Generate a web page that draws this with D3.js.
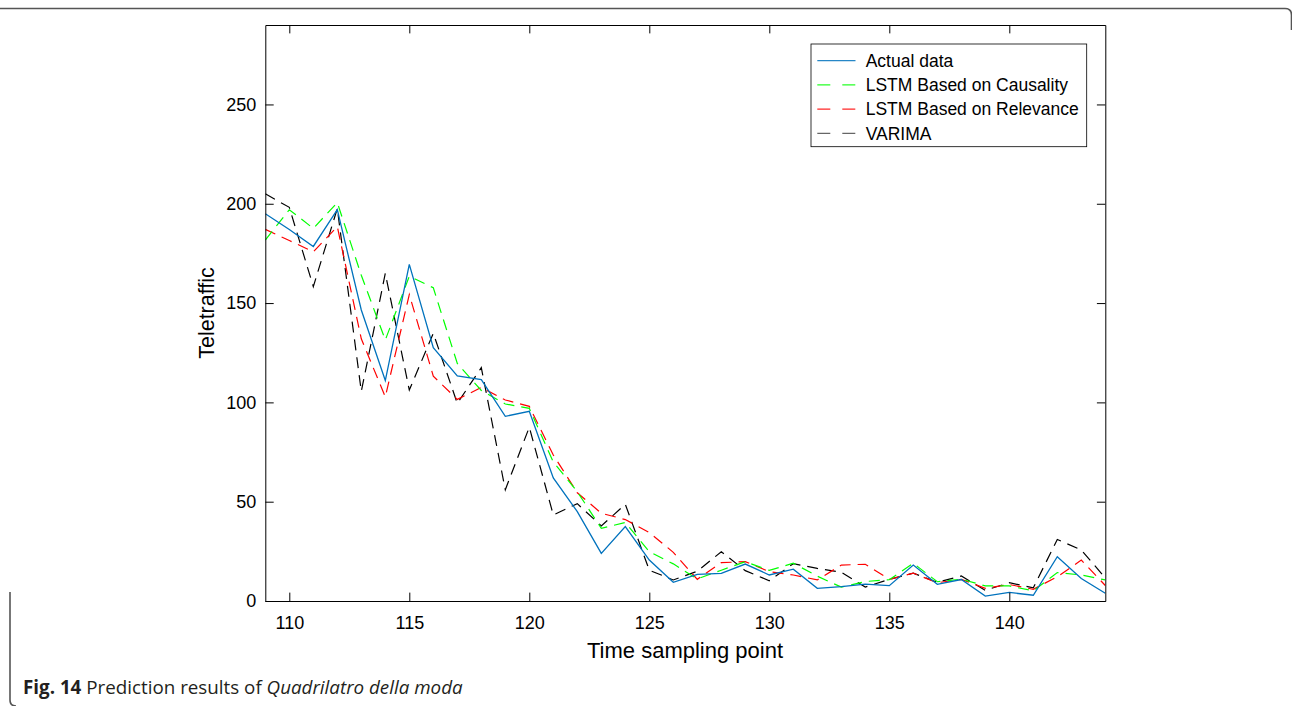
<!DOCTYPE html>
<html>
<head>
<meta charset="utf-8">
<script src="https://cdn.jsdelivr.net/npm/d3@7"></script>
<style>
  html, body { margin: 0; padding: 0; background: #fff; }
  svg { display: block; }
</style>
</head>
<body>
<svg id="chart" width="1292" height="706"></svg>
<script>
// Time sampling points 109..144
const timePoints = d3.range(109, 145);

const actualData = [195, 187, 178.5, 197, 146.5, 111, 169.5, 127.5, 113.3, 111.5, 93, 95.5,
  62, 45, 24, 37.5, 20.6, 9.4, 13.4, 13.9, 18.6, 13.1, 16, 6.4,
  7.2, 8.5, 7.7, 18.1, 8.4, 10.8, 2.5, 4.3, 2.9, 22.3, 11.3, 3.9];

const lstmCausality = [181.7, 197, 187.6, 200.6, 164, 131.4, 163.5, 157.7, 119.6, 106, 99.2, 97,
  70, 55, 36.6, 39.5, 24.8, 18.7, 11.1, 15.5, 19.8, 15.4, 19, 12.5,
  7, 9.8, 10.7, 19, 9.7, 11, 7.6, 7.6, 5.1, 14.3, 13.1, 10.6];

const lstmRelevance = [187.1, 181.5, 175.8, 188.5, 132, 102.8, 154.3, 113.2, 101.5, 107.5, 101.2, 98,
  73.5, 54.5, 44.2, 41, 34.5, 24.5, 10.9, 19.3, 19.8, 14.8, 13.1, 10.6,
  18.1, 18.5, 10.9, 14, 9.2, 10.9, 6.4, 8.3, 5.9, 12.2, 20.6, 7.8];

const varima = [205, 198.2, 158.3, 197.6, 105.5, 165, 106.2, 134.8, 99.5, 117.5, 56, 87.5,
  43.3, 49, 37.8, 48.7, 15.5, 10.6, 15, 24.8, 15.3, 10.2, 18.8, 16.4,
  14.5, 7, 10.9, 14, 9.4, 12.6, 5.4, 9.2, 6.6, 31, 25.7, 11.6];

const xTicks = [110, 115, 120, 125, 130, 135, 140];
const yTicks = [0, 50, 100, 150, 200, 250];

const seriesNames = ["Actual data", "LSTM Based on Causality", "LSTM Based on Relevance", "VARIMA"];
const seriesColors = ["#0072BD", "#00FF00", "#FF0000", "#000000"];
const seriesValues = [actualData, lstmCausality, lstmRelevance, varima];

const svg = d3.select("#chart");
const FONT = "'Liberation Sans', Arial, Helvetica, sans-serif";

// page frame
svg.append("path")
  .attr("d", "M0,8.5 H1285 Q1291.5,8.5 1291.5,15 V30")
  .attr("fill", "none").attr("stroke", "#555").attr("stroke-width", 1.6);
svg.append("path")
  .attr("d", "M10,592 V700 Q10,706 16,706")
  .attr("fill", "none").attr("stroke", "#555").attr("stroke-width", 1.6);

const plot = { left: 265.3, right: 1105.3, top: 25, bottom: 601 };

const x = d3.scaleLinear().domain([109, 144]).range([plot.left, plot.right]);
const y = d3.scaleLinear().domain([0, 290]).range([plot.bottom, plot.top]);

svg.append("defs").append("clipPath").attr("id", "plotclip")
  .append("rect")
  .attr("x", plot.left).attr("y", plot.top)
  .attr("width", plot.right - plot.left).attr("height", plot.bottom - plot.top);

// data lines
const line = d3.line().x((d, i) => x(timePoints[i])).y(d => y(d));
const g = svg.append("g").attr("clip-path", "url(#plotclip)");
// dashed predictions first so the actual data sits on top
[3, 2, 1, 0].forEach(k => {
  g.append("path")
    .datum(seriesValues[k])
    .attr("d", line)
    .attr("fill", "none")
    .attr("stroke", seriesColors[k])
    .attr("stroke-width", k === 0 ? 1.3 : 1.2)
    .attr("stroke-dasharray", k === 0 ? null : "11,7")
    .attr("stroke-linejoin", "miter");
});

// axes (ticks inward, box on)
function styleAxis(sel) {
  sel.selectAll(".domain").attr("stroke", "#000").attr("stroke-width", 1);
  sel.selectAll(".tick line").attr("stroke", "#000").attr("stroke-width", 1);
  sel.selectAll("text").attr("font-family", FONT).attr("font-size", 18).attr("fill", "#000");
}

svg.append("g").attr("transform", `translate(0,${plot.bottom})`)
  .call(d3.axisBottom(x).tickValues(xTicks).tickFormat(d3.format("d"))
    .tickSizeInner(-8.4).tickSizeOuter(0).tickPadding(15.5))
  .call(styleAxis);
svg.append("g").attr("transform", `translate(0,${plot.top})`)
  .call(d3.axisTop(x).tickValues(xTicks).tickFormat("")
    .tickSizeInner(-8.4).tickSizeOuter(0))
  .call(styleAxis);
svg.append("g").attr("transform", `translate(${plot.left},0)`)
  .call(d3.axisLeft(y).tickValues(yTicks).tickFormat(d3.format("d"))
    .tickSizeInner(-8.4).tickSizeOuter(0).tickPadding(9))
  .call(styleAxis);
svg.append("g").attr("transform", `translate(${plot.right},0)`)
  .call(d3.axisRight(y).tickValues(yTicks).tickFormat("")
    .tickSizeInner(-8.4).tickSizeOuter(0))
  .call(styleAxis);

// axis titles
svg.append("text")
  .attr("x", 685).attr("y", 658)
  .attr("text-anchor", "middle")
  .attr("font-family", FONT).attr("font-size", 22).attr("fill", "#000")
  .text("Time sampling point");
svg.append("text")
  .attr("transform", `translate(214,${(plot.top + plot.bottom) / 2}) rotate(-90)`)
  .attr("text-anchor", "middle")
  .attr("font-family", FONT).attr("font-size", 21.5).attr("fill", "#000")
  .text("Teletraffic");

// legend
const legend = svg.append("g");
legend.append("rect")
  .attr("x", 811).attr("y", 44).attr("width", 275.7).attr("height", 102.7)
  .attr("fill", "#fff").attr("stroke", "#000").attr("stroke-width", 0.8);
seriesNames.forEach((name, i) => {
  const cy = 60.7 + i * 24.2;
  legend.append("line")
    .attr("x1", 817.3).attr("x2", 855.5).attr("y1", cy).attr("y2", cy)
    .attr("stroke", seriesColors[i]).attr("stroke-width", 1.2)
    .attr("stroke-opacity", i === 3 ? 0.6 : 0.85)
    .attr("stroke-dasharray", i === 0 ? null : "13,12");
  legend.append("text")
    .attr("x", 865.7).attr("y", cy).attr("dy", "0.36em")
    .attr("font-family", FONT).attr("font-size", 17.5).attr("fill", "#000")
    .text(name);
});

// caption
const cap = svg.append("text")
  .attr("x", 23).attr("y", 694)
  .attr("font-family", "'Open Sans', 'Noto Sans', sans-serif").attr("font-size", 18.8)
  .attr("fill", "#231f20");
cap.append("tspan").attr("font-weight", "bold").text("Fig. 14");
cap.append("tspan").text(" Prediction results of ");
cap.append("tspan").attr("font-style", "italic").text("Quadrilatro della moda");
</script>
</body>
</html>
